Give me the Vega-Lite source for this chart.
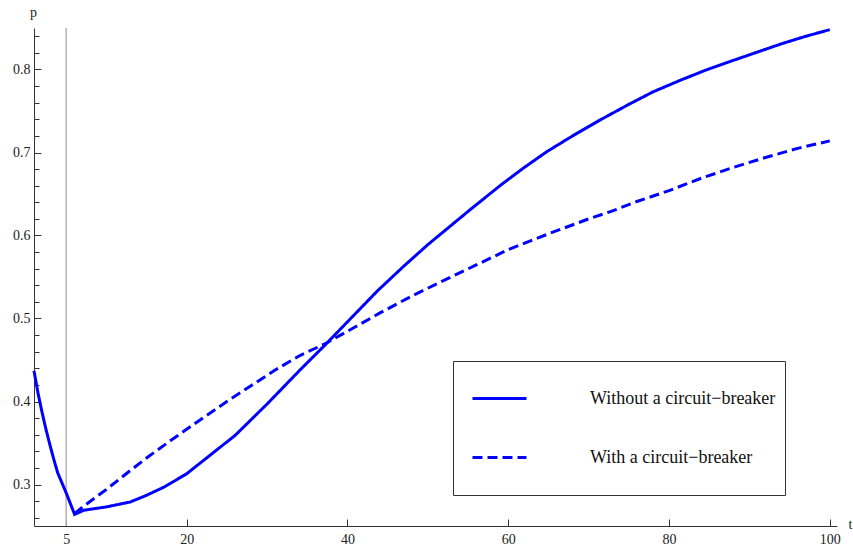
{
  "$schema": "https://vega.github.io/schema/vega-lite/v6.json",
  "width": 803,
  "height": 498,
  "autosize": {"type": "none"},
  "padding": {"left": 34, "top": 28, "right": 16, "bottom": 22},
  "background": "white",
  "config": {
    "view": {"stroke": null},
    "font": "Liberation Serif",
    "axis": {
      "grid": false,
      "domainColor": "#333333",
      "domainWidth": 1,
      "tickColor": "#333333",
      "tickWidth": 1,
      "labelFont": "Liberation Serif",
      "labelFontSize": 14,
      "labelColor": "#222222",
      "titleFont": "Liberation Serif",
      "titleFontSize": 14,
      "titleFontWeight": "normal",
      "titleColor": "#222222"
    }
  },
  "datasets": {
    "curves": [
      {"t": 1, "p": 0.437, "series": "Without a circuit−breaker"},
      {"t": 1.5, "p": 0.41, "series": "Without a circuit−breaker"},
      {"t": 2, "p": 0.387, "series": "Without a circuit−breaker"},
      {"t": 2.5, "p": 0.366, "series": "Without a circuit−breaker"},
      {"t": 3, "p": 0.347, "series": "Without a circuit−breaker"},
      {"t": 3.5, "p": 0.329, "series": "Without a circuit−breaker"},
      {"t": 3.95, "p": 0.314, "series": "Without a circuit−breaker"},
      {"t": 5, "p": 0.29, "series": "Without a circuit−breaker"},
      {"t": 6.05, "p": 0.264, "series": "Without a circuit−breaker"},
      {"t": 7.2, "p": 0.269, "series": "Without a circuit−breaker"},
      {"t": 10, "p": 0.273, "series": "Without a circuit−breaker"},
      {"t": 13, "p": 0.279, "series": "Without a circuit−breaker"},
      {"t": 15, "p": 0.287, "series": "Without a circuit−breaker"},
      {"t": 17.2, "p": 0.297, "series": "Without a circuit−breaker"},
      {"t": 20, "p": 0.313, "series": "Without a circuit−breaker"},
      {"t": 23, "p": 0.336, "series": "Without a circuit−breaker"},
      {"t": 26, "p": 0.359, "series": "Without a circuit−breaker"},
      {"t": 28, "p": 0.378, "series": "Without a circuit−breaker"},
      {"t": 30, "p": 0.397, "series": "Without a circuit−breaker"},
      {"t": 32, "p": 0.417, "series": "Without a circuit−breaker"},
      {"t": 34.2, "p": 0.439, "series": "Without a circuit−breaker"},
      {"t": 37.1, "p": 0.467, "series": "Without a circuit−breaker"},
      {"t": 40.5, "p": 0.501, "series": "Without a circuit−breaker"},
      {"t": 43.7, "p": 0.533, "series": "Without a circuit−breaker"},
      {"t": 47, "p": 0.563, "series": "Without a circuit−breaker"},
      {"t": 50, "p": 0.589, "series": "Without a circuit−breaker"},
      {"t": 52, "p": 0.605, "series": "Without a circuit−breaker"},
      {"t": 55.5, "p": 0.633, "series": "Without a circuit−breaker"},
      {"t": 59.1, "p": 0.661, "series": "Without a circuit−breaker"},
      {"t": 62, "p": 0.682, "series": "Without a circuit−breaker"},
      {"t": 64.8, "p": 0.701, "series": "Without a circuit−breaker"},
      {"t": 68, "p": 0.72, "series": "Without a circuit−breaker"},
      {"t": 71.4, "p": 0.739, "series": "Without a circuit−breaker"},
      {"t": 75, "p": 0.758, "series": "Without a circuit−breaker"},
      {"t": 78, "p": 0.773, "series": "Without a circuit−breaker"},
      {"t": 81.4, "p": 0.787, "series": "Without a circuit−breaker"},
      {"t": 84.5, "p": 0.799, "series": "Without a circuit−breaker"},
      {"t": 88, "p": 0.811, "series": "Without a circuit−breaker"},
      {"t": 91, "p": 0.821, "series": "Without a circuit−breaker"},
      {"t": 94, "p": 0.831, "series": "Without a circuit−breaker"},
      {"t": 97, "p": 0.84, "series": "Without a circuit−breaker"},
      {"t": 100, "p": 0.848, "series": "Without a circuit−breaker"},
      {"t": 6.05, "p": 0.265, "series": "With a circuit−breaker"},
      {"t": 7.2, "p": 0.274, "series": "With a circuit−breaker"},
      {"t": 10, "p": 0.294, "series": "With a circuit−breaker"},
      {"t": 13, "p": 0.317, "series": "With a circuit−breaker"},
      {"t": 15, "p": 0.332, "series": "With a circuit−breaker"},
      {"t": 18, "p": 0.353, "series": "With a circuit−breaker"},
      {"t": 21.7, "p": 0.378, "series": "With a circuit−breaker"},
      {"t": 25, "p": 0.4, "series": "With a circuit−breaker"},
      {"t": 28, "p": 0.419, "series": "With a circuit−breaker"},
      {"t": 31, "p": 0.438, "series": "With a circuit−breaker"},
      {"t": 34.2, "p": 0.456, "series": "With a circuit−breaker"},
      {"t": 37.1, "p": 0.469, "series": "With a circuit−breaker"},
      {"t": 41, "p": 0.49, "series": "With a circuit−breaker"},
      {"t": 44.1, "p": 0.507, "series": "With a circuit−breaker"},
      {"t": 48, "p": 0.527, "series": "With a circuit−breaker"},
      {"t": 52, "p": 0.546, "series": "With a circuit−breaker"},
      {"t": 55.7, "p": 0.563, "series": "With a circuit−breaker"},
      {"t": 60, "p": 0.583, "series": "With a circuit−breaker"},
      {"t": 65, "p": 0.602, "series": "With a circuit−breaker"},
      {"t": 70, "p": 0.62, "series": "With a circuit−breaker"},
      {"t": 72.8, "p": 0.629, "series": "With a circuit−breaker"},
      {"t": 76, "p": 0.641, "series": "With a circuit−breaker"},
      {"t": 80, "p": 0.654, "series": "With a circuit−breaker"},
      {"t": 84, "p": 0.669, "series": "With a circuit−breaker"},
      {"t": 88, "p": 0.682, "series": "With a circuit−breaker"},
      {"t": 92, "p": 0.694, "series": "With a circuit−breaker"},
      {"t": 96, "p": 0.705, "series": "With a circuit−breaker"},
      {"t": 100, "p": 0.714, "series": "With a circuit−breaker"}
    ],
    "marker": [{"t": 5}]
  },
  "layer": [
    {
      "data": {"name": "marker"},
      "mark": {"type": "rule", "color": "#b3b3b3", "strokeWidth": 1.5},
      "encoding": {
        "x": {"field": "t", "type": "quantitative", "scale": {"domain": [1, 100.9], "nice": false, "zero": false}}
      }
    },
    {
      "data": {"name": "curves"},
      "mark": {"type": "line", "color": "#0000ff", "strokeWidth": 3, "interpolate": "linear"},
      "encoding": {
        "x": {
          "field": "t", "type": "quantitative",
          "scale": {"domain": [1, 100.9], "nice": false, "zero": false},
          "axis": {"values": [5, 20, 40, 60, 80, 100], "title": "t", "tickSize": -7, "labelPadding": 13, "titleAngle": 0, "titleX": 816, "titleY": -2, "titleAlign": "center", "titleBaseline": "middle"}
        },
        "y": {
          "field": "p", "type": "quantitative",
          "scale": {"domain": [0.25, 0.85], "nice": false, "zero": false},
          "axis": {"values": [0.3, 0.4, 0.5, 0.6, 0.7, 0.8], "format": ".1f", "orient": "left", "title": "p", "tickSize": -7, "labelPadding": 11, "titleAngle": 0, "titleX": -1, "titleY": -16, "titleAlign": "center", "titleBaseline": "middle"}
        },
        "strokeDash": {
          "field": "series", "type": "nominal",
          "scale": {"domain": ["Without a circuit−breaker", "With a circuit−breaker"], "range": [[1, 0], [10, 5]]},
          "legend": {
            "title": "\u00a0\u00a0\u00a0\u00a0\u00a0\u00a0\u00a0\u00a0\u00a0\u00a0\u00a0\u00a0\u00a0\u00a0\u00a0\u00a0\u00a0\u00a0\u00a0\u00a0\u00a0\u00a0\u00a0\u00a0\u00a0\u00a0\u00a0\u00a0\u00a0\u00a0\u00a0\u00a0\u00a0\u00a0\u00a0\u00a0\u00a0\u00a0\u00a0\u00a0\u00a0\u00a0\u00a0\u00a0\u00a0\u00a0\u00a0\u00a0\u00a0\u00a0\u00a0\u00a0\u00a0\u00a0\u00a0\u00a0\u00a0\u00a0\u00a0\u00a0\u00a0\u00a0\u00a0\u00a0\u00a0\u00a0\u00a0\u00a0\u00a0\u00a0\u00a0\u00a0\u00a0\u00a0\u00a0\u00a0\u00a0\u00a0\u00a0\u00a0\u00a0\u00a0\u00a0\u00a0\u00a0\u00a0\u00a0\u00a0\u00a0\u00a0\u00a0\u00a0\u00a0\u00a0",
            "titleOrient": "bottom",
            "titleFontSize": 16,
            "titlePadding": 3,
            "titleLimit": 1000,
            "orient": "none",
            "legendX": 419,
            "legendY": 333,
            "padding": 9,
            "symbolOffset": 9,
            "symbolType": "stroke",
            "symbolSize": 2916,
            "symbolStrokeWidth": 3,
            "symbolStrokeColor": "#0000ff",
            "labelOffset": 62,
            "rowPadding": 21,
            "labelFont": "Liberation Serif",
            "labelFontSize": 18,
            "labelColor": "#111111",
            "labelLimit": 400,
            "strokeColor": "#333333",
            "fillColor": "white"
          }
        },
        "detail": {"field": "series"}
      }
    },
    {
      "data": {"name": "marker"},
      "mark": {"type": "rule", "opacity": 0},
      "encoding": {
        "y": {
          "datum": 0.5, "type": "quantitative",
          "scale": {"domain": [0.25, 0.85], "nice": false, "zero": false},
          "axis": {"values": [0.26, 0.28, 0.32, 0.34, 0.36, 0.38, 0.42, 0.44, 0.46, 0.48, 0.52, 0.54, 0.56, 0.58, 0.62, 0.64, 0.66, 0.68, 0.72, 0.74, 0.76, 0.78, 0.82, 0.84], "orient": "left", "labels": false, "domain": false, "title": null, "tickSize": -5}
        }
      }
    }
  ],
  "resolve": {"axis": {"y": "independent"}}
}
